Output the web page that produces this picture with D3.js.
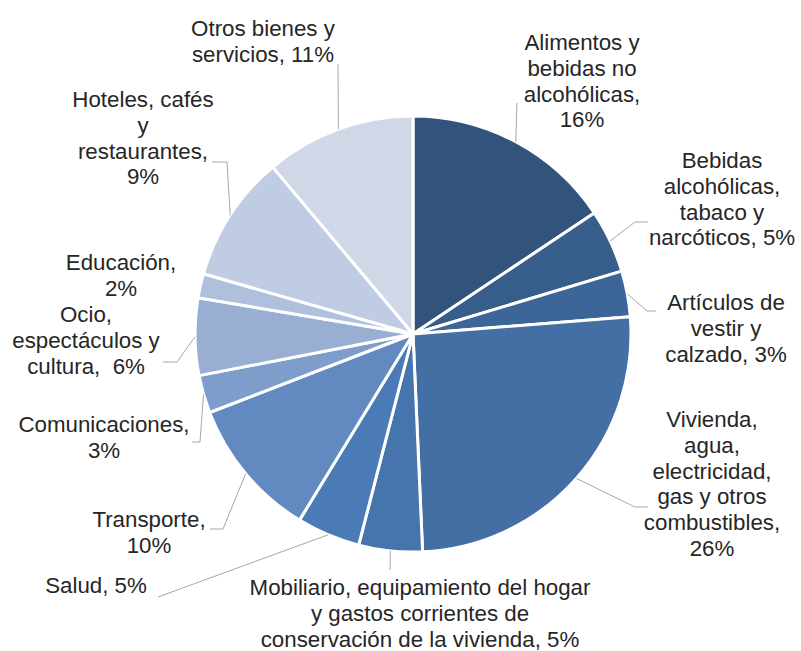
<!DOCTYPE html>
<html><head><meta charset="utf-8">
<script src="https://cdn.jsdelivr.net/npm/d3@7"></script>
<style>html,body{margin:0;padding:0;background:#fff;}svg{display:block;}</style>
</head><body>
<svg id="chart" width="801" height="651"></svg>
<script>
// ---- data ----
const categories = [
  "Alimentos y bebidas no alcohólicas",
  "Bebidas alcohólicas, tabaco y narcóticos",
  "Artículos de vestir y calzado",
  "Vivienda, agua, electricidad, gas y otros combustibles",
  "Mobiliario, equipamiento del hogar y gastos corrientes de conservación de la vivienda",
  "Salud",
  "Transporte",
  "Comunicaciones",
  "Ocio, espectáculos y cultura",
  "Educación",
  "Hoteles, cafés y restaurantes",
  "Otros bienes y servicios"
];
const values = [15.6, 4.7, 3.4, 25.5, 4.7, 4.7, 10.4, 2.8, 5.7, 1.8, 9.4, 11.1];
const colors = ["#32547c","#375d8a","#3c6598","#436fa5","#4674ad","#4a7bb7",
                "#638ac0","#7e9dca","#98afd3","#afc0dc","#bfcce3","#d0d8e7"];
// label line breaks ("%p" = percentage)
const labelLines = [
  ["Alimentos y","bebidas no","alcohólicas,","%p"],
  ["Bebidas","alcohólicas,","tabaco y","narcóticos, %p"],
  ["Artículos de","vestir y","calzado, %p"],
  ["Vivienda,","agua,","electricidad,","gas y otros","combustibles,","%p"],
  ["Mobiliario, equipamiento del hogar","y gastos corrientes de","conservación de la vivienda, %p"],
  ["Salud, %p"],
  ["Transporte,","%p"],
  ["Comunicaciones,","%p"],
  ["Ocio,","espectáculos y","cultura,\u00a0 %p"],
  ["Educación,","%p"],
  ["Hoteles, cafés","y","restaurantes,","%p"],
  ["Otros bienes y","servicios, %p"]
];

// ---- layout ----
const cx = 413, cy = 334, R = 218, lineH = 25.8;
const labelPos = [ // [center x, first baseline]
  [582, 50], [722, 168], [726, 310], [712, 427], [420, 595], [96, 593],
  [149, 527], [104, 432], [86, 322], [121, 270], [143, 107], [263, 36]
];
const leaderPts = [ // points after the slice-edge start
  [[517,103]],
  [[635,222],[648,222]],
  [[647,311],[656,311]],
  [[635,507],[648,507]],
  [[390,570]],
  [[158,597]],
  [[223,529],[210,529]],
  [[200,442],[192,442]],
  [[177,362],[163,362]],
  null,
  [[227,162],[212,162]],
  [[338,64]]
];

const svg = d3.select("#chart");
const g = svg.append("g").attr("transform", `translate(${cx},${cy})`);
const pie = d3.pie().sort(null).value(d => d)(values);
const arc = d3.arc().innerRadius(0).outerRadius(R);

g.selectAll("path.slice").data(pie).join("path")
  .attr("class","slice")
  .attr("d", arc)
  .attr("fill", (d,i) => colors[i])
  .attr("stroke", "#fff")
  .attr("stroke-width", 3)
  .attr("stroke-linejoin","round");

// leader lines
pie.forEach((d,i) => {
  if (!leaderPts[i]) return;
  const a = (d.startAngle + d.endAngle) / 2;
  const start = [cx + R*Math.sin(a), cy - R*Math.cos(a)];
  const pts = [start].concat(leaderPts[i]);
  svg.append("path")
    .attr("d", d3.line()(pts))
    .attr("fill","none")
    .attr("stroke","#a6a6a6")
    .attr("stroke-width",1);
});

// labels
pie.forEach((d,i) => {
  const pct = Math.round(values[i]) + "%";
  const t = svg.append("text")
    .attr("x", labelPos[i][0]).attr("y", labelPos[i][1])
    .attr("text-anchor","middle")
    .attr("font-family","'Liberation Sans', Arial, sans-serif")
    .attr("font-size", 22.3)
    .attr("fill","#262626");
  labelLines[i].forEach((ln, k) => {
    t.append("tspan")
      .attr("x", labelPos[i][0])
      .attr("y", labelPos[i][1] + k*lineH)
      .text(ln.replace("%p", pct));
  });
});
</script>
</body></html>
